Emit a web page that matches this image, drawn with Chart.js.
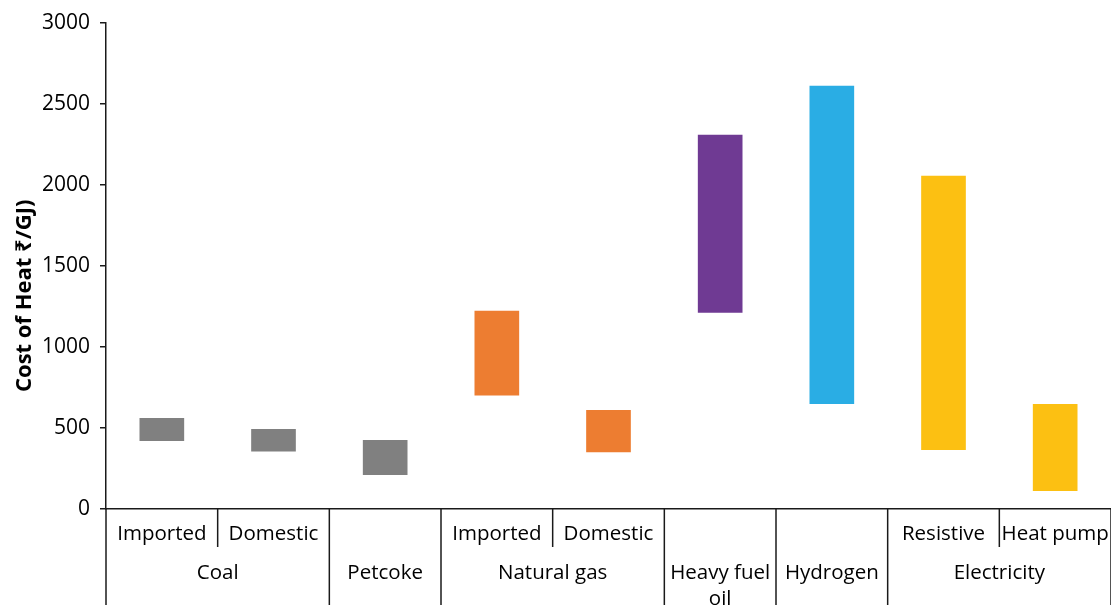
<!DOCTYPE html>
<html><head><meta charset="utf-8">
<script src="https://cdn.jsdelivr.net/npm/chart.js@4"></script>
<style>html,body{margin:0;padding:0;background:#fff}#wrap{width:1111px;height:605px;position:relative}</style>
</head><body><div id="wrap"><canvas id="c"></canvas></div>
<script>
const categories = ['Coal Imported','Coal Domestic','Petcoke','Natural gas Imported','Natural gas Domestic','Heavy fuel oil','Hydrogen','Electricity Resistive','Electricity Heat pump'];
const subLabels = ['Imported','Domestic','','Imported','Domestic','','','Resistive','Heat pump'];
const groupLabels = [['Coal'],['Petcoke'],['Natural gas'],['Heavy fuel','oil'],['Hydrogen'],['Electricity']];
const groupSizes = [2,1,2,1,1,2];
const lowValues = [420,355,210,700,350,1210,648,364,111];
const highValues = [562,494,426,1222,611,2309,2611,2056,648];
const barColors = ['#808080','#808080','#808080','#ED7D31','#ED7D31','#6F3A93','#2AADE4','#FCC012','#FCC012'];
const yMin = 0, yMax = 3000, yStep = 500;
const yTitle = 'Cost of Heat ₹/GJ)';

const FONT = "'Open Sans','Noto Sans','DejaVu Sans',sans-serif";
const LINE = '#1a1a1a';

const groupAxisPlugin = {
  id: 'groupAxis',
  afterDraw(chart) {
    const ctx = chart.ctx;
    const xs = chart.scales.x;
    const ys = chart.scales.y;
    const top = chart.chartArea.bottom;
    const bottom = chart.height;
    const half = (xs.getPixelForValue(1) - xs.getPixelForValue(0)) / 2;
    const edge = i => xs.getPixelForValue(i) - half;
    ctx.save();
    ctx.strokeStyle = LINE;
    ctx.lineWidth = 1.5;
    ctx.fillStyle = '#000';
    ctx.font = '20.5px ' + FONT;
    ctx.textAlign = 'center';
    ctx.textBaseline = 'middle';
    subLabels.forEach((t, i) => {
      if (t) ctx.fillText(t, xs.getPixelForValue(i), top + 25);
    });
    let start = 0;
    groupLabels.forEach((lines, g) => {
      const n = groupSizes[g];
      const x0 = edge(start);
      const x1 = edge(start + n);
      ctx.beginPath(); ctx.moveTo(x0, top); ctx.lineTo(x0, bottom); ctx.stroke();
      for (let k = 1; k < n; k++) {
        const xe = edge(start + k);
        ctx.beginPath(); ctx.moveTo(xe, top); ctx.lineTo(xe, top + 38); ctx.stroke();
      }
      lines.forEach((t, li) => ctx.fillText(t, (x0 + x1) / 2, top + 64 + li * 26));
      start += n;
    });
    const xe = edge(start);
    ctx.beginPath(); ctx.moveTo(xe, top); ctx.lineTo(xe, bottom); ctx.stroke();
    // y axis title
    ctx.translate(25, (ys.top + ys.bottom) / 2 + 30);
    ctx.rotate(-Math.PI / 2);
    ctx.font = 'bold 22px ' + FONT;
    ctx.fillText(yTitle, 0, 0);
    ctx.restore();
  }
};

new Chart(document.getElementById('c'), {
  type: 'bar',
  data: {
    labels: categories,
    datasets: [{
      data: lowValues.map((v, i) => [v, highValues[i]]),
      backgroundColor: barColors,
      borderWidth: 0,
      barPercentage: 0.4,
      categoryPercentage: 1.0
    }]
  },
  options: {
    responsive: true,
    maintainAspectRatio: false,
    animation: false,
    layout: { padding: { top: 13, right: 0, left: 0, bottom: 0 } },
    plugins: { legend: { display: false }, tooltip: { enabled: false } },
    scales: {
      x: {
        type: 'category',
        grid: { display: false },
        border: { display: true, color: LINE, width: 1.5 },
        ticks: { display: false },
        afterFit(s) { s.height = 96; }
      },
      y: {
        min: yMin, max: yMax,
        ticks: { stepSize: yStep, color: '#000', font: { family: FONT, size: 21 }, padding: 10, callback: v => String(v) },
        grid: { drawOnChartArea: false, drawTicks: true, tickLength: 6, color: LINE, lineWidth: 1.5 },
        border: { display: true, color: LINE, width: 1.5 },
        title: { display: false },
        afterFit(s) { s.width = 106; }
      }
    }
  },
  plugins: [groupAxisPlugin]
});
</script>
</body></html>
